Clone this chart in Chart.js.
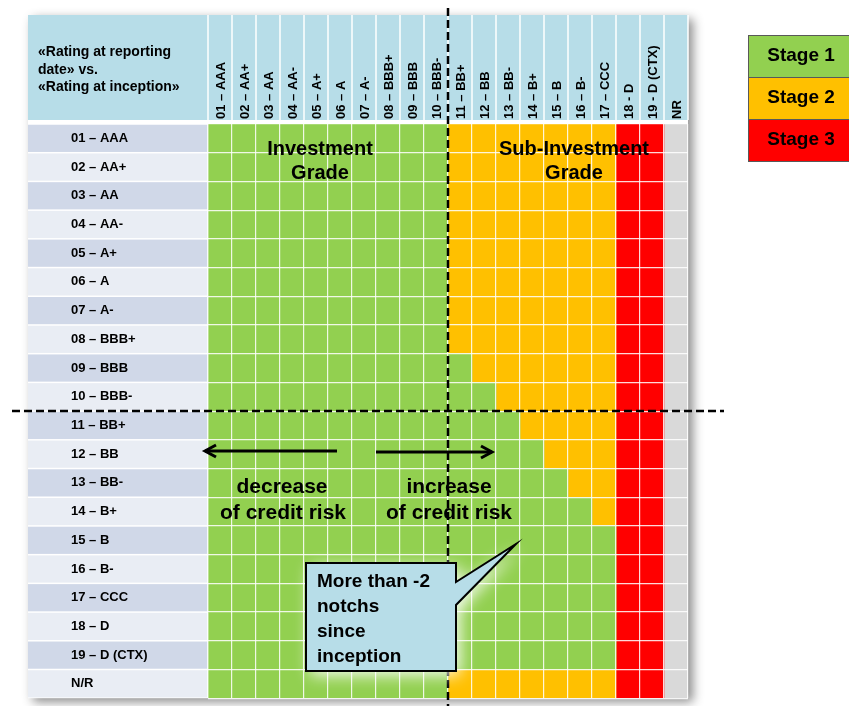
<!DOCTYPE html>
<html>
<head>
<meta charset="utf-8">
<script src="https://cdn.jsdelivr.net/npm/chart.js@4.4.1/dist/chart.umd.min.js"></script>
<style>
html, body { margin: 0; padding: 0; background: #fff; }
#wrap { width: 849px; height: 706px; }
</style>
</head>
<body>
<div id="wrap"><canvas id="matrix-canvas"></canvas></div>
<script>
// rows = rating at reporting date, columns = rating at inception
const rowLabels = ['01 – AAA','02 – AA+','03 – AA','04 – AA-','05 – A+','06 – A','07 – A-','08 – BBB+','09 – BBB','10 – BBB-',
  '11 – BB+','12 – BB','13 – BB-','14 – B+','15 – B','16 – B-','17 – CCC','18 – D','19 – D (CTX)','N/R']
const colLabels = ['01 – AAA','02 – AA+','03 – AA','04 – AA-','05 – A+','06 – A','07 – A-','08 – BBB+','09 – BBB','10 – BBB-',
  '11 – BB+','12 – BB','13 – BB-','14 – B+','15 – B','16 – B-','17 – CCC','18 - D','19 - D (CTX)','NR']

// number of cells of each stage in every row (left to right)
const stage1Cells = [10,10,10,10,10,10,10,10,11,12,13,14,15,16,17,17,17,17,17,10]
const stage2Cells = [7,7,7,7,7,7,7,7,6,5,4,3,2,1,0,0,0,0,0,7]
const stage3Cells = [2,2,2,2,2,2,2,2,2,2,2,2,2,2,2,2,2,2,2,2]
const notRatedCells = [1,1,1,1,1,1,1,1,1,1,1,1,1,1,1,1,1,1,1,1]

const FONT = '"Liberation Sans", Arial, sans-serif'
const green = '#92d050', amber = '#ffc000', red = '#ff0000', grey = '#d9d9d9'

function line(c, x1, y1, x2, y2) { c.beginPath(); c.moveTo(x1, y1); c.lineTo(x2, y2); c.stroke() }

function arrow(c, x1, x2, y) {
  line(c, x1, y, x2, y)
  const d = x2 > x1 ? -1 : 1
  c.beginPath(); c.moveTo(x2 + d * 11, y - 6); c.lineTo(x2, y); c.lineTo(x2 + d * 11, y + 6); c.stroke()
}

const decor = {
  id: 'decor',
  beforeDraw(chart) {
    const c = chart.ctx, a = chart.chartArea, x = chart.scales.x
    const n = rowLabels.length, h = (a.bottom - a.top) / n
    c.save()
    c.shadowColor = 'rgba(0,0,0,0.45)'; c.shadowBlur = 10; c.shadowOffsetX = 5; c.shadowOffsetY = 4
    c.fillStyle = '#fff'
    c.fillRect(28, 15, a.right - 28, a.bottom - 15)
    c.restore()

    c.save()
    c.fillStyle = '#b7dde8'
    c.fillRect(28, 15, a.right - 28, 105)
    c.strokeStyle = '#fff'; c.lineWidth = 1.5
    for (let i = 0; i <= colLabels.length; i++) {
      const px = x.getPixelForValue(i)
      line(c, px, 15, px, 120)
    }
    for (let i = 0; i < n; i++) {
      c.fillStyle = i % 2 ? '#e9edf4' : '#d0d8e8'
      c.fillRect(28, a.top + i * h + 0.75, a.left - 28, h - 1.5)
    }
    c.fillStyle = '#000'
    c.font = 'bold 14px ' + FONT
    c.textBaseline = 'middle'
    c.fillText('«Rating at reporting', 38, 52)
    c.fillText('date» vs.', 38, 70)
    c.fillText('«Rating at inception»', 38, 87)
    c.restore()
  },
  afterDraw(chart) {
    const c = chart.ctx, a = chart.chartArea, x = chart.scales.x
    const n = rowLabels.length, h = (a.bottom - a.top) / n
    c.save()
    c.fillStyle = '#000'
    c.textAlign = 'center'; c.textBaseline = 'alphabetic'
    c.font = 'bold 20px ' + FONT
    c.fillText('Investment', 320, 155)
    c.fillText('Grade', 320, 179)
    c.fillText('Sub-Investment', 574, 155)
    c.fillText('Grade', 574, 179)
    c.font = 'bold 21px ' + FONT
    c.fillText('decrease', 282, 493)
    c.fillText('of credit risk', 283, 519)
    c.fillText('increase', 449, 493)
    c.fillText('of credit risk', 449, 519)

    c.strokeStyle = '#000'; c.lineWidth = 3
    arrow(c, 337, 205, 451)
    arrow(c, 376, 492, 452)

    // dashed split between investment and sub-investment grade
    const vx = x.getPixelForValue(10), hy = a.top + 10 * h
    c.lineWidth = 2.5; c.setLineDash([8, 4])
    line(c, vx, 8, vx, 706)
    line(c, 12, hy, 724, hy)
    c.setLineDash([])

    // callout
    c.save()
    c.shadowColor = 'rgba(255,255,255,0.95)'; c.shadowBlur = 16; c.shadowOffsetX = 4; c.shadowOffsetY = 4
    c.beginPath()
    c.moveTo(306, 563); c.lineTo(456, 563); c.lineTo(456, 582); c.lineTo(516, 544)
    c.lineTo(456, 605); c.lineTo(456, 671); c.lineTo(306, 671); c.closePath()
    c.fillStyle = '#b7dde8'; c.fill()
    c.restore()
    c.lineWidth = 2; c.strokeStyle = '#000'; c.stroke()
    c.fillStyle = '#000'; c.textAlign = 'left'; c.textBaseline = 'middle'
    c.font = 'bold 19px ' + FONT
    ;['More than -2', 'notchs', 'since', 'inception'].forEach((t, i) => c.fillText(t, 317, 582 + i * 25))

    // stage legend
    const sets = chart.data.datasets.slice(0, 3)
    sets.forEach((ds, i) => {
      const top = 35 + i * 42
      c.fillStyle = ds.backgroundColor
      c.fillRect(748, top, 110, 42)
      c.strokeStyle = '#595959'; c.lineWidth = 1
      c.strokeRect(748.5, top + 0.5, 110, 42)
      c.fillStyle = '#000'; c.textAlign = 'center'
      c.font = 'bold 19px ' + FONT
      c.fillText(ds.label, 801, top + 21)
    })
    c.restore()
  }
}

const context = document.getElementById('matrix-canvas').getContext('2d')

const matrix = new Chart(context, {
  type: 'bar',
  data: {
    labels: rowLabels,
    datasets: [
      { label: 'Stage 1', data: stage1Cells, backgroundColor: green },
      { label: 'Stage 2', data: stage2Cells, backgroundColor: amber },
      { label: 'Stage 3', data: stage3Cells, backgroundColor: red },
      { label: 'NR', data: notRatedCells, backgroundColor: grey }
    ]
  },
  options: {
    indexAxis: 'y',
    responsive: true,
    maintainAspectRatio: false,
    animation: false,
    layout: { padding: { left: 71, right: 161, top: 15, bottom: 2 } },
    datasets: { bar: { barPercentage: 1, categoryPercentage: 1, borderWidth: 0 } },
    plugins: { legend: { display: false }, tooltip: { enabled: false } },
    scales: {
      x: {
        type: 'linear', stacked: true, min: 0, max: 20, position: 'bottom',
        ticks: { display: false, stepSize: 1 },
        grid: { color: 'rgba(255,255,255,0.85)', lineWidth: 1.2, drawTicks: false, z: 1 },
        border: { display: false },
        afterFit: s => { s.height = 0 }
      },
      cols: {
        type: 'category', labels: colLabels, position: 'top', offset: true,
        grid: { display: false, drawTicks: false }, border: { display: false },
        ticks: {
          autoSkip: false, minRotation: 90, maxRotation: 90, padding: 5, labelOffset: 17,
          color: '#000', font: { family: FONT, size: 13, weight: 'bold' }
        },
        afterFit: s => { s.height = 109 }
      },
      y: {
        stacked: true,
        grid: { color: 'rgba(255,255,255,0.85)', lineWidth: 1.2, drawTicks: false, offset: true, z: 1 },
        border: { display: false },
        ticks: { crossAlign: 'far', padding: 0, color: '#000', font: { family: FONT, size: 13, weight: 'bold' } },
        afterFit: s => { s.width = 137 }
      }
    }
  },
  plugins: [decor]
})
</script>
</body>
</html>
